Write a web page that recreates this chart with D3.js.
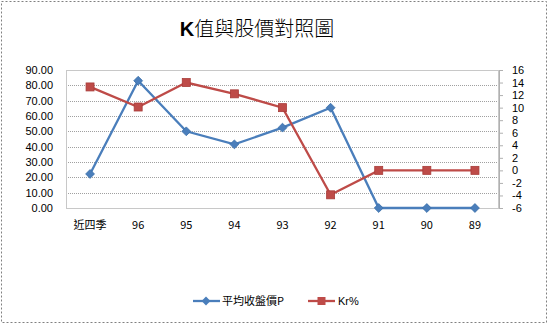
<!DOCTYPE html>
<html><head><meta charset="utf-8">
<script src="https://cdn.jsdelivr.net/npm/d3@7"></script>
<style>body{margin:0;background:#fff}svg{display:block}</style>
</head><body>
<svg id="c" width="548" height="325"></svg>
<script>
const categories = ["近四季","96","95","94","93","92","91","90","89"];
const priceP = [22.2, 83.0, 50.0, 41.5, 52.4, 65.4, 0, 0, 0];
const krPct = [13.3, 10.1, 14.0, 12.2, 10.0, -3.9, 0, 0, 0];
const leftTicks = [0,10,20,30,40,50,60,70,80,90];
const rightTicks = [-6,-4,-2,0,2,4,6,8,10,12,14,16];
const seriesNames = ["平均收盤價P","Kr%"];

const svg = d3.select("#c");
const font = "'Liberation Sans', Arial, 'Noto Sans CJK TC', sans-serif";
const L = 66, R = 499, T = 70, B = 208;

// outer dashed border
svg.append("rect").attr("x",1.5).attr("y",1.5).attr("width",545).attr("height",321)
  .attr("fill","none").attr("stroke","#808080").attr("stroke-dasharray","2,2");

// title
const title = svg.append("text").attr("x",257).attr("y",36).attr("text-anchor","middle")
  .attr("font-family","'Noto Sans CJK TC', sans-serif").attr("font-size",20).attr("font-weight",300).attr("fill","#000");
title.append("tspan").attr("font-weight","bold").attr("font-family","'Liberation Sans', Arial, sans-serif").text("K");
title.append("tspan").text("值與股價對照圖");

const x = d3.scaleBand().domain(categories).range([L,R]);
const yL = d3.scaleLinear().domain([0,90]).range([B,T]);
const yR = d3.scaleLinear().domain([-6,16]).range([B,T]);

// gridlines
svg.append("g").selectAll("line").data(leftTicks.filter(d=>d>0)).join("line")
  .attr("x1",L).attr("x2",R).attr("y1",d=>Math.round(yL(d))+0.5).attr("y2",d=>Math.round(yL(d))+0.5)
  .attr("stroke","#a0a0a0").attr("stroke-dasharray","1,1");

// plot border
svg.append("rect").attr("x",L+0.5).attr("y",T+0.5).attr("width",R-L-1).attr("height",B-T)
  .attr("fill","none").attr("stroke","#c8c8c8");

// left axis
const gL = svg.append("g").attr("transform",`translate(${L},0)`)
  .call(d3.axisLeft(yL).tickValues(leftTicks).tickFormat(d3.format(".2f")).tickSize(0).tickPadding(13));
gL.select(".domain").remove();
gL.selectAll("text").attr("font-family",font).attr("font-size",11).attr("fill","#000");

// right axis
const gR = svg.append("g").attr("transform",`translate(${R},0)`)
  .call(d3.axisRight(yR).tickValues(rightTicks).tickFormat(d=>String(d)).tickSize(4).tickPadding(9));
gR.select(".domain").attr("stroke","#b0b0b0");
gR.selectAll(".tick line").attr("stroke","#b0b0b0");
gR.selectAll("text").attr("font-family",font).attr("font-size",11).attr("fill","#000");

// x axis labels
const gX = svg.append("g").attr("transform",`translate(0,${B})`)
  .call(d3.axisBottom(x).tickSize(0).tickPadding(13));
gX.select(".domain").remove();
gX.selectAll("text").attr("font-family","'Noto Sans CJK TC', sans-serif").attr("font-size",11).attr("fill","#000");

const cx = d => x(d) + x.bandwidth()/2;
const blue = "#4A7EBB", red = "#BE4B48";

// series lines
svg.append("path").datum(priceP).attr("fill","none").attr("stroke",blue).attr("stroke-width",2.3)
  .attr("d", d3.line().x((d,i)=>cx(categories[i])).y(d=>yL(d)));
svg.append("path").datum(krPct).attr("fill","none").attr("stroke",red).attr("stroke-width",2.3)
  .attr("d", d3.line().x((d,i)=>cx(categories[i])).y(d=>yR(d)));

// markers
const diamond = d3.symbol().type(d3.symbolDiamond2).size(50);
svg.append("g").selectAll("path").data(priceP).join("path")
  .attr("d",diamond).attr("transform",(d,i)=>`translate(${cx(categories[i])},${yL(d)})`)
  .attr("fill",blue).attr("stroke","#3a6ea8").attr("stroke-width",0.8);
svg.append("g").selectAll("rect").data(krPct).join("rect")
  .attr("x",(d,i)=>cx(categories[i])-4).attr("y",d=>yR(d)-4).attr("width",8).attr("height",8)
  .attr("fill",red).attr("stroke","#a83c39").attr("stroke-width",0.8);

// legend
const lg = svg.append("g");
lg.append("line").attr("x1",193).attr("x2",220).attr("y1",301).attr("y2",301).attr("stroke",blue).attr("stroke-width",2.3);
lg.append("path").attr("d",diamond).attr("transform","translate(206,301)").attr("fill",blue);
lg.append("text").attr("x",222).attr("y",305).attr("font-family","'Noto Sans CJK TC', sans-serif").attr("font-size",11).text(seriesNames[0]);
lg.append("line").attr("x1",308).attr("x2",335).attr("y1",301).attr("y2",301).attr("stroke",red).attr("stroke-width",2.3);
lg.append("rect").attr("x",317.5).attr("y",297).attr("width",8).attr("height",8).attr("fill",red);
lg.append("text").attr("x",338).attr("y",305).attr("font-family",font).attr("font-size",11).text(seriesNames[1]);
</script>
</body></html>
